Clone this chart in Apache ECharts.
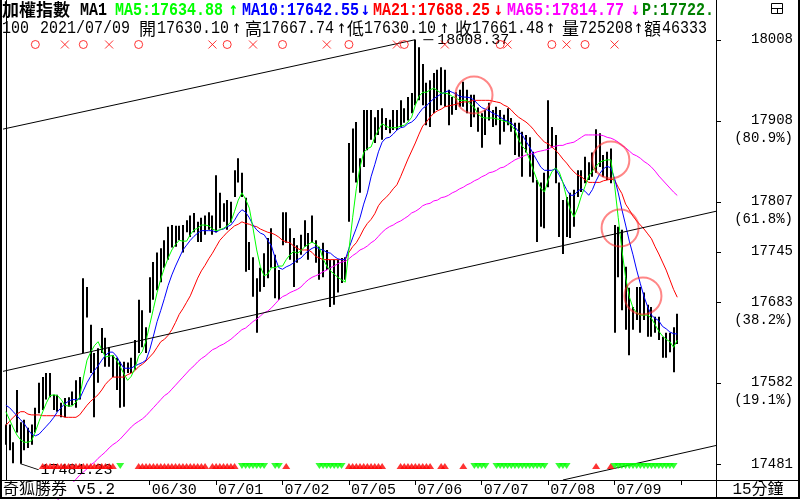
<!DOCTYPE html>
<html><head><meta charset="utf-8">
<script src="https://cdn.jsdelivr.net/npm/echarts@6/dist/echarts.min.js"></script>
<style>html,body{margin:0;padding:0;background:#fff}#c{width:800px;height:500px}</style>
</head><body><div id="c"></div>
<script>
// ---------------- data ----------------
const dayLabels = ['06/25','06/28','06/29','06/30','07/01','07/02','07/05','07/06','07/07','07/08','07/09'];
const barsPerDay = [3,18,18,18,18,18,18,18,18,18,18];
const shownDays = ['06/30','07/01','07/02','07/05','07/06','07/07','07/08','07/09'];

const highs = [17530,17530,17508,17573,17533,17536,17526,17530,17551,17582,
 17589,17594,17594,17567,17567,17557,17563,17564,17571,17585,
 17589,17712,17701,17654,17619,17625,17650,17638,17626,17616,
 17613,17608,17608,17607,17613,17635,17685,17672,17651,17713,
 17732,17744,17749,17759,17776,17778,17777,17777,17778,17784,
 17790,17793,17782,17787,17790,17794,17790,17840,17818,17805,
 17809,17807,17846,17861,17843,17812,17757,17738,17712,17725,
 17743,17762,17774,17741,17722,17794,17794,17774,17762,17753,
 17766,17784,17768,17790,17759,17751,17756,17747,17735,17735,
 17735,17737,17738,17880,17898,17906,17861,17921,17921,17921,
 17912,17921,17923,17911,17909,17921,17921,17933,17923,17937,
 17942,18008.37,17999,17978,17955,17958,17967,17971,17974,17971,
 17946,17937,17943,17946,17956,17946,17940,17940,17924,17917,
 17921,17930,17921,17925,17921,17915,17923,17911,17905,17905,
 17894,17890,17887,17869,17834,17831,17843,17933,17900,17890,
 17831,17809,17813,17818,17822,17846,17846,17863,17856,17868,
 17897,17892,17865,17869,17873,17778,17776,17772,17726,17700,
 17676,17701,17701,17694,17679,17676,17664,17664,17639,17644,
 17644,17651,17667.74];
const lows = [17505,17498,17482,17520,17481.23,17498,17501,17505,17520,17544,
 17548,17561,17564,17548,17546,17539,17539,17552,17554,17551,
 17561,17619,17663,17594,17539,17582,17619,17602,17602,17589,
 17573,17551,17552,17594,17594,17598,17619,17626,17619,17669,
 17685,17697,17707,17725,17735,17750,17751,17759,17744,17769,
 17763,17769,17757,17757,17766,17772,17766,17769,17774,17782,
 17772,17781,17813,17831,17813,17720,17722,17689,17644,17695,
 17701,17712,17725,17687,17685,17753,17756,17735,17701,17731,
 17741,17751,17735,17756,17731,17710,17713,17722,17676,17679,
 17694,17706,17710,17782,17843,17831,17818,17850,17871,17884,
 17880,17890,17884,17896,17892,17896,17896,17900,17905,17908,
 17917,17927,17933,17927,17902,17900,17917,17921,17927,17925,
 17902,17915,17921,17925,17925,17917,17900,17912,17894,17874,
 17890,17908,17900,17902,17878,17894,17902,17894,17865,17863,
 17838,17868,17838,17831,17757,17776,17774,17825,17874,17830,
 17763,17742,17763,17762,17776,17813,17819,17830,17834,17838,
 17843,17850,17838,17834,17830,17644,17713,17672,17648,17616,
 17648,17660,17644,17660,17639,17639,17644,17635,17613,17613,
 17620,17595,17630.10];
const ma5 = [17546,17536,17526,17517,17511,17508,17508,17510,17521,17534,
 17546,17557,17566,17567,17566,17561,17554,17553,17553,17558,
 17564,17588,17610,17620,17628,17633,17623,17614,17615,17616,
 17610,17602,17593,17585,17590,17600,17615,17621,17634,17654,
 17674,17694,17711,17725,17737,17747,17754,17759,17758,17758,
 17766,17772,17774,17778,17778,17777,17773,17771,17772,17774,
 17777,17782,17795,17809,17818,17810,17799,17774,17747,17726,
 17715,17717,17725,17725,17727,17727,17735,17741,17745,17743,
 17746,17751,17754,17757,17754,17750,17736,17727,17721,17717,
 17713,17710,17707,17747,17787,17823,17850,17868,17873,17875,
 17887,17896,17904,17901,17899,17899,17899,17901,17902,17906,
 17912,17927,17938,17943,17943,17946,17948,17945,17942,17942,
 17941,17938,17936,17933,17933,17933,17928,17924,17916,17912,
 17911,17911,17911,17910,17909,17907,17906,17902,17896,17884,
 17876,17871,17859,17846,17834,17824,17819,17834,17844,17849,
 17844,17831,17812,17797,17788,17799,17814,17826,17839,17845,
 17851,17856,17858,17859,17859,17828,17787,17747,17713,17689,
 17675,17669,17666,17666,17666,17662,17654,17646,17640,17636,
 17633,17626,17634.88];
const ma10 = [17554,17551,17546,17541,17536,17531,17524,17518,17516,17518,
 17523,17528,17533,17539,17546,17551,17556,17559,17561,17561,
 17562,17572,17582,17590,17597,17603,17610,17616,17620,17620,
 17615,17607,17600,17600,17600,17603,17605,17607,17610,17623,
 17640,17658,17672,17687,17703,17716,17727,17737,17747,17753,
 17759,17764,17768,17771,17771,17771,17771,17769,17772,17773,
 17776,17778,17784,17792,17797,17794,17787,17778,17772,17768,
 17766,17759,17752,17737,17725,17723,17726,17728,17731,17735,
 17737,17742,17746,17749,17751,17748,17747,17744,17743,17739,
 17736,17735,17735,17749,17762,17774,17787,17804,17818,17838,
 17853,17869,17881,17886,17887,17891,17896,17899,17900,17904,
 17906,17910,17917,17923,17926,17931,17935,17938,17941,17943,
 17945,17943,17941,17938,17937,17937,17936,17933,17928,17924,
 17922,17920,17917,17915,17912,17909,17907,17905,17900,17894,
 17890,17882,17875,17866,17858,17850,17846,17846,17846,17848,
 17840,17831,17822,17815,17815,17820,17823,17820,17815,17822,
 17833,17842,17848,17851,17849,17836,17818,17797,17778,17758,
 17741,17722,17705,17689,17676,17666,17662,17659,17652,17649,
 17645,17643,17642.55];
const ma21 = [17529,17534,17539,17543,17546,17546,17543,17542,17542,17542,
 17541,17541,17541,17541,17541,17541,17539,17539,17539,17539,
 17542,17548,17554,17559,17563,17567,17573,17580,17585,17589,
 17589,17589,17589,17592,17594,17597,17602,17605,17609,17614,
 17619,17626,17633,17636,17641,17648,17657,17667,17674,17682,
 17690,17701,17712,17721,17728,17736,17743,17751,17759,17764,
 17769,17773,17777,17779,17782,17780,17779,17777,17776,17773,
 17771,17769,17768,17766,17763,17759,17757,17756,17752,17749,
 17747,17747,17747,17744,17739,17737,17735,17735,17735,17735,
 17735,17735,17735,17744,17751,17756,17764,17773,17780,17785,
 17792,17802,17808,17812,17817,17823,17828,17838,17849,17860,
 17870,17880,17891,17901,17906,17912,17917,17920,17922,17925,
 17926,17927,17928,17930,17931,17931,17932,17933,17933,17933,
 17933,17933,17932,17931,17930,17927,17925,17921,17916,17912,
 17909,17906,17902,17897,17891,17886,17881,17879,17875,17871,
 17866,17860,17855,17849,17844,17840,17838,17834,17831,17831,
 17831,17831,17833,17834,17835,17834,17825,17817,17804,17797,
 17789,17783,17778,17773,17767,17761,17751,17742,17732,17722,
 17710,17698,17688.25];
const ma65 = [null,null,null,null,null,null,null,null,null,null,
 null,null,null,17431,17436,17441,17446,17452,17457,17462,
 17467,17471,17475,17480,17483,17488,17492,17496,17501,17505,
 17508,17512,17517,17522,17527,17531,17534,17537,17541,17546,
 17551,17556,17561,17566,17569,17574,17579,17584,17589,17594,
 17599,17603,17608,17612,17615,17619,17623,17625,17628,17630,
 17633,17636,17640,17644,17648,17650,17654,17658,17661,17665,
 17669,17671,17675,17680,17685,17689,17691,17694,17696,17698,
 17701,17706,17710,17713,17715,17717,17720,17722,17725,17727,
 17730,17732,17733,17736,17740,17743,17747,17749,17752,17756,
 17759,17764,17769,17773,17776,17778,17781,17783,17786,17789,
 17793,17795,17798,17802,17804,17805,17808,17809,17812,17813,
 17815,17818,17820,17823,17825,17828,17830,17833,17835,17838,
 17840,17843,17844,17846,17849,17850,17853,17856,17859,17861,
 17863,17865,17866,17867,17869,17870,17871,17872,17875,17876,
 17877,17877,17879,17880,17881,17884,17887,17890,17890,17890,
 17890,17890,17889,17887,17886,17884,17881,17877,17874,17870,
 17866,17864,17861,17857,17854,17850,17845,17839,17834,17829,
 17824,17819,17814.77];

// signal markers (bar indexes)
const buySignalIdx = [8,21,36,60,75,93,108,134,148,157];      // red circles
const sellSignalIdx = [16,28,56,67,87,106,119,136,152,165];   // red crosses
const upRuns = [[10,29],[36,54],[56,62],[76,76],[93,102],[107,115],[118,119],[124,124],[160,160],[164,164]];
const downRuns = [[31,31],[64,70],[73,74],[85,91],[127,130],[133,146],[150,152],[165,181]];
// highlighted circles [bar position, price]
const circleMarks = [[126.9,17939.6],[164.0,17858.9],[166.5,17774.3],[172.7,17689.8]];
// trend lines [[bar, price],[bar, price]]
const trendLines = [
  [[-1.6,17896.4],[111,18008.37]],
  [[-1.6,17595.3],[192.5,17795.1]],
  [[151.0,17461.1],[192.5,17504.0]]
];
// right axis ticks
const yTickValues = [18008.37,17907.79,17807.16,17744.80,17682.59,17581.97,17481.23];
const yTickText = ['18008','17908','17807','17745','17683','17582','17481'];
const yTickPct = ['','80.9%','61.8%','','38.2%','19.1%',''];
// header values
const maNames = ['MA5','MA10','MA21','MA65'];
const maLast = ['17634.88','17642.55','17688.25','17814.77'];
const maArrow = ['↑','↓','↓','↓'];
const pValue = 'P:17722.';
const pValueTail = '100';
const quoteDate = '2021/07/09';
const quoteNames = ['開','高','低','收','量','額'];
const quoteValues = ['17630.10','17667.74','17630.10','17661.48','725208','46333'];
const quoteArrow = ['↑','↑','↑','↑','↑',''];

// ---------------- build ----------------
const N_SLOTS = 193;
const categories = [];
const dayStart = [];
dayLabels.forEach((d,k)=>{ dayStart.push(categories.length); for(let j=0;j<barsPerDay[k];j++) categories.push(d); });
const nBars = categories.length;
while (categories.length < N_SLOTS) categories.push('');
const tickIdx = new Set(); const labelAt = new Map();
dayLabels.forEach((d,k)=>{ if (shownDays.includes(d)) { tickIdx.add(dayStart[k]); labelAt.set(dayStart[k], d); } });
tickIdx.add(nBars);

const barData = highs.map((h,i)=>[i, lows[i], h]);
let lowIdx = 0, highIdx = 0;
lows.forEach((v,i)=>{ if (v < lows[lowIdx]) lowIdx = i; });
highs.forEach((v,i)=>{ if (v > highs[highIdx]) highIdx = i; });

const expand = runs => { const out=[]; runs.forEach(([a,b])=>{ for(let i=a;i<=b;i++) out.push([i,0]); }); return out; };

const MONO = '"Liberation Mono","DejaVu Sans Mono","Noto Sans CJK TC",monospace';
const CJK = '"Noto Sans CJK TC","Noto Sans CJK SC",sans-serif';
const ARROW = '"DejaVu Sans Mono",monospace';
const maColors = ['#00ff00','#0000ff','#ff0000','#ff00ff'];

const G = { left:4, right:84 };

function txt(x,y,text,fill,font,align,sy){
  return {type:'text', x:x, y:y, z:100, scaleY: sy||1, style:{text:text, fill:fill, font:font, verticalAlign:'middle', align:align||'left'}};
}
const graphics = [];
// header line 1
graphics.push(txt(2,10,'加權指數','#000','bold 17px '+CJK));
graphics.push(txt(80,10,'MA1','#000','bold 15px '+MONO,'left',1.2));
const maX = [115,242,373,507], maArrowX = [229,361,494,631];
maNames.forEach((n,k)=>{
  graphics.push(txt(maX[k],10,n+':'+maLast[k],maColors[k],'bold 15px '+MONO,'left',1.2));
  graphics.push(txt(maArrowX[k],10,maArrow[k],maColors[k],'bold 15px '+ARROW,'left',1.2));
});
graphics.push(txt(642,10,pValue,'#008000','bold 15px '+MONO,'left',1.2));
// header line 2
graphics.push(txt(2,28.5,pValueTail,'#000','15px '+MONO,'left',1.2));
graphics.push(txt(40,28.5,quoteDate,'#000','15px '+MONO,'left',1.2));
const qnX=[139,245,347,455,562,644], qvX=[157,262,364,472,579,662], qaX=[232,337,440,546,634,null];
quoteNames.forEach((n,k)=>{
  graphics.push(txt(qnX[k],28.5,n,'#000','17px '+CJK));
  graphics.push(txt(qvX[k],28.5,quoteValues[k],'#000','15px '+MONO,'left',1.2));
  if (quoteArrow[k]) graphics.push(txt(qaX[k],28.5,quoteArrow[k],'#000','15px '+ARROW,'left',1.2));
});
// frame
const ln = (x1,y1,x2,y2,w)=>({type:'line', z:90, shape:{x1,y1,x2,y2}, style:{stroke:'#000', lineWidth:w||1}});
graphics.push(ln(1,0,1,499,2));
graphics.push(ln(0,498,800,498,2));
graphics.push(ln(799,0,799,499,2));
graphics.push(ln(716.5,0,716.5,498,1));
graphics.push(ln(0,480.5,800,480.5,1));
// bottom texts
graphics.push({type:'rect', z:95, shape:{x:2,y:482,width:112,height:15}, style:{fill:'#fff'}});
graphics.push(txt(3,490,'奇狐勝券 v5.2','#000','16px '+MONO));
graphics.push(txt(758,490,'15分鐘','#000','16px '+MONO,'center'));
// icon
graphics.push({type:'rect', z:100, shape:{x:771.5,y:3.5,width:11,height:10}, style:{fill:'none', stroke:'#000', lineWidth:1}});
graphics.push(ln(771.5,8.5,782.5,8.5,1));
graphics.push(ln(777.5,8.5,777.5,13.5,1));

const option = {
  animation:false,
  backgroundColor:'#fff',
  grid:[
    {left:G.left, right:G.right, top:0, bottom:20},
    {left:G.left, right:G.right, top:38, height:13},
    {left:G.left, right:G.right, top:460, height:12}
  ],
  xAxis:[
    {type:'category', gridIndex:0, data:categories, boundaryGap:true,
     axisLine:{show:true, lineStyle:{color:'#000'}},
     axisTick:{show:true, alignWithLabel:true, interval:(i)=>tickIdx.has(i), length:5, lineStyle:{color:'#000'}},
     axisLabel:{show:true, interval:(i)=>labelAt.has(i), formatter:(v,i)=>labelAt.get(i)||'', align:'left', padding:[0,0,0,2],
       margin:3, color:'#000', fontFamily:MONO, fontSize:15},
     splitLine:{show:false}},
    {type:'value', gridIndex:0, min:-0.5, max:N_SLOTS-0.5, show:false},
    {type:'category', gridIndex:1, data:categories, show:false},
    {type:'category', gridIndex:2, data:categories, show:false}
  ],
  yAxis:[
    {type:'value', gridIndex:0, position:'right', min:17461.1, max:18057.7, scale:true,
     splitLine:{show:false},
     axisLine:{show:true, lineStyle:{color:'#000'}},
     axisTick:{show:false},
     axisLabel:{show:true, customValues:yTickValues, align:'right', margin:77, lineHeight:18,
       color:'#000', fontFamily:MONO, fontSize:14,
       formatter:(v)=>{ let k=0; yTickValues.forEach((t,j)=>{ if(Math.abs(t-v)<Math.abs(yTickValues[k]-v)) k=j; });
         return yTickPct[k] ? '\n'+yTickText[k]+'\n('+yTickPct[k]+')' : yTickText[k]; }}},
    {type:'category', gridIndex:1, data:['s'], show:false},
    {type:'category', gridIndex:2, data:['s'], show:false}
  ],
  graphic:graphics,
  series:[
    {type:'custom', name:'bars', xAxisIndex:0, yAxisIndex:0, data:barData, z:2,
     encode:{x:0, y:[1,2]},
     renderItem:(params, api)=>{
       const i = api.value(0);
       const p1 = api.coord([i, api.value(1)]);
       const p2 = api.coord([i, api.value(2)]);
       const x = Math.round(p1[0]);
       return {type:'line', shape:{x1:x, y1:p1[1], x2:x, y2:p2[1]}, style:{stroke:'#000', lineWidth:2}};
     },
     markPoint:{animation:false, data:[
       {coord:[lowIdx, lows[lowIdx]], symbol:'path://M0,0L18,6', symbolSize:[18,6], symbolOffset:[9,3], symbolKeepAspect:false,
        itemStyle:{color:'transparent', borderColor:'#000', borderWidth:1},
        label:{show:true, position:'right', distance:1, offset:[0,3], formatter:lows[lowIdx].toFixed(2), color:'#000', fontFamily:MONO, fontSize:15}},
       {coord:[highIdx, highs[highIdx]], symbol:'rect', symbolSize:[10,1], symbolOffset:[13,0],
        itemStyle:{color:'#000'},
        label:{show:true, position:'right', distance:4, formatter:highs[highIdx].toFixed(2), color:'#000', fontFamily:MONO, fontSize:15}}
     ]}},
    // right-axis tick marks at the fibonacci levels
    {type:'custom', name:'yticks', xAxisIndex:1, yAxisIndex:0, z:10, clip:false,
     data:yTickValues.map(v=>[N_SLOTS-0.5, v]),
     renderItem:(params, api)=>{
       const c = api.coord([api.value(0), api.value(1)]);
       const y = Math.round(c[1]) + 0.5;
       return {type:'line', shape:{x1:c[0], y1:y, x2:c[0]+5, y2:y}, style:{stroke:'#000', lineWidth:1}};
     }},
    {type:'line', name:'MA65', data:ma65, xAxisIndex:0, yAxisIndex:0, symbol:'none', clip:false, z:3,
     lineStyle:{color:maColors[3], width:1}, itemStyle:{color:maColors[3]}},
    {type:'line', name:'MA21', data:ma21, xAxisIndex:0, yAxisIndex:0, symbol:'none', z:3,
     lineStyle:{color:maColors[2], width:1}, itemStyle:{color:maColors[2]}},
    {type:'line', name:'MA10', data:ma10, xAxisIndex:0, yAxisIndex:0, symbol:'none', z:3,
     lineStyle:{color:maColors[1], width:1}, itemStyle:{color:maColors[1]}},
    {type:'line', name:'MA5', data:ma5, xAxisIndex:0, yAxisIndex:0, symbol:'none', z:3,
     lineStyle:{color:maColors[0], width:1}, itemStyle:{color:maColors[0]}},
    ...trendLines.map(seg=>({type:'line', xAxisIndex:1, yAxisIndex:0, data:seg, symbol:'none', clip:false, z:4,
       lineStyle:{color:'#000', width:1}})),
    {type:'scatter', xAxisIndex:1, yAxisIndex:0, data:circleMarks, symbol:'circle', symbolSize:37, z:5,
     itemStyle:{color:'transparent', borderColor:'rgba(255,40,40,0.7)', borderWidth:2}},
    {type:'scatter', xAxisIndex:2, yAxisIndex:1, data:buySignalIdx.map(i=>[i,0]), symbol:'circle', symbolSize:8, z:5,
     itemStyle:{color:'transparent', borderColor:'#ff0000', borderWidth:1}},
    {type:'scatter', xAxisIndex:2, yAxisIndex:1, data:sellSignalIdx.map(i=>[i,0]), symbol:'path://M0,0L10,10M10,0L0,10', symbolSize:8, z:5,
     itemStyle:{color:'transparent', borderColor:'#ff0000', borderWidth:1}},
    {type:'scatter', xAxisIndex:3, yAxisIndex:2, data:expand(upRuns), symbol:'triangle', symbolSize:[8,6], z:6,
     itemStyle:{color:'#ff0000'}},
    {type:'scatter', xAxisIndex:3, yAxisIndex:2, data:expand(downRuns), symbol:'triangle', symbolRotate:180, symbolSize:[8,6], z:6,
     itemStyle:{color:'#00ff00'}}
  ]
};
const chart = echarts.init(document.getElementById('c'), null, {renderer:'canvas', width:800, height:500});
chart.setOption(option);
</script>
</body></html>
